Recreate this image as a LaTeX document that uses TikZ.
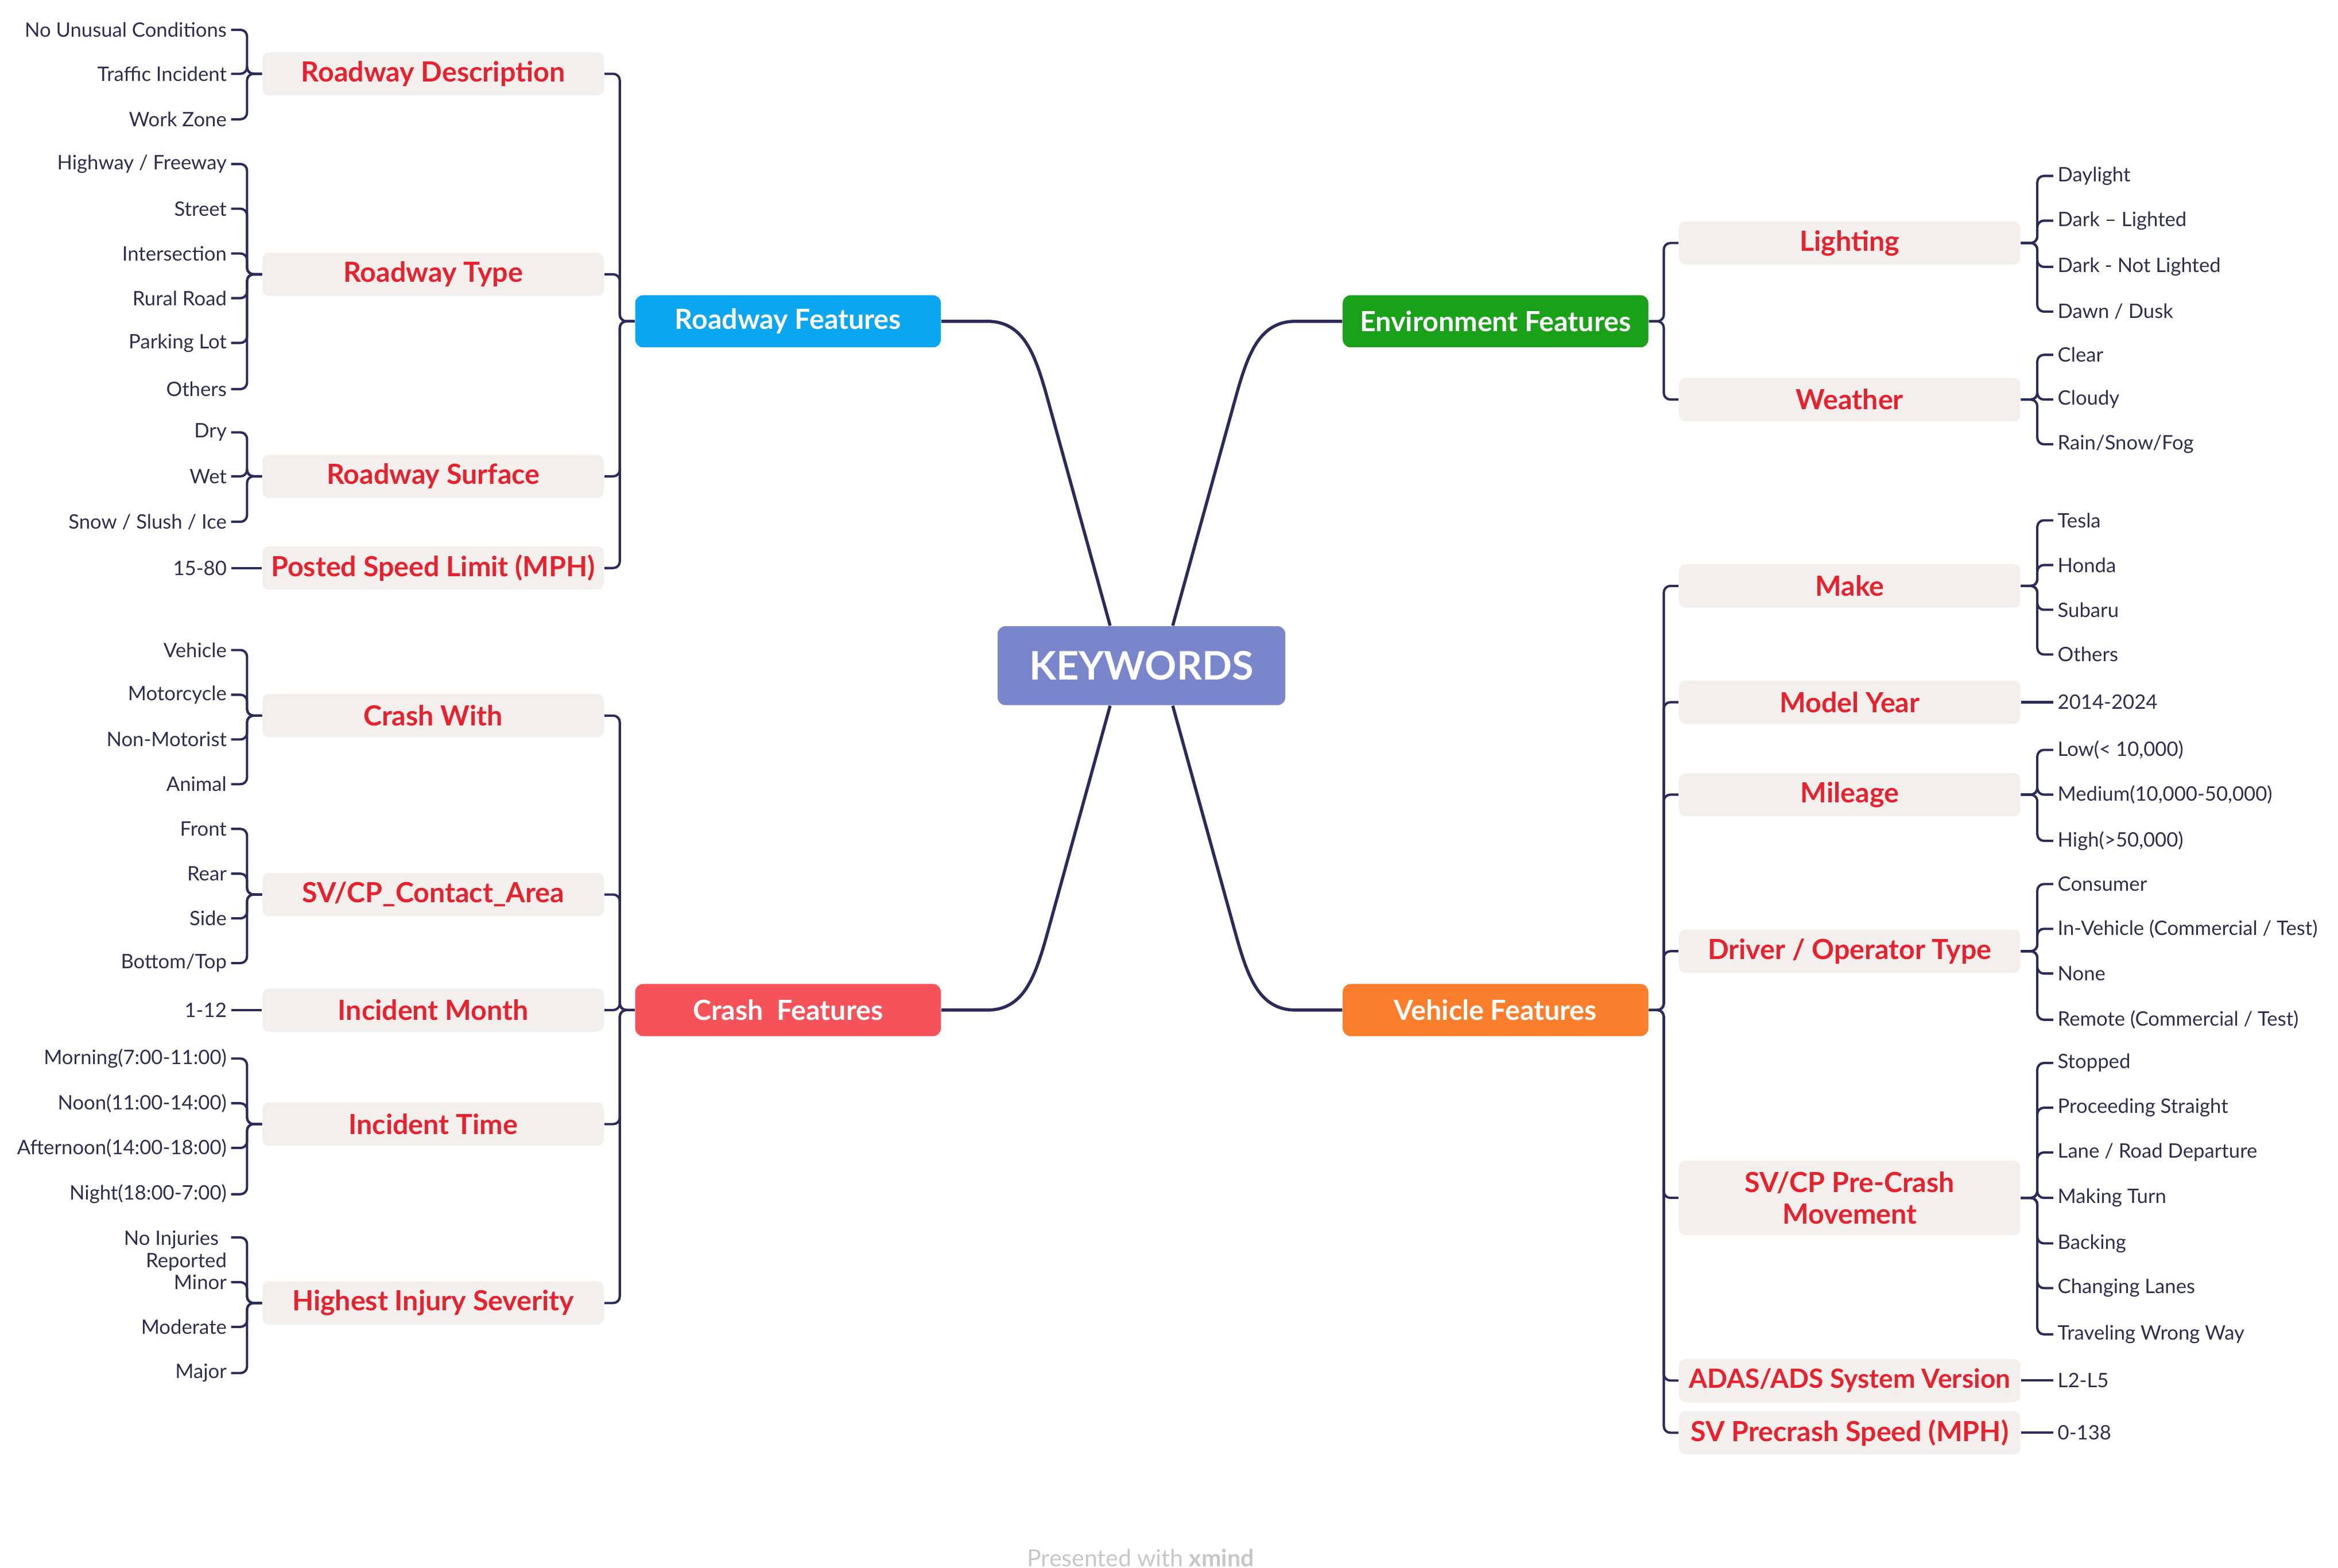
\documentclass[tikz,border=0pt]{standalone}
\usepackage{fontspec}
\setmainfont{Lato}
\usetikzlibrary{calc}
\definecolor{linec}{HTML}{2A2B5A}
\definecolor{leafc}{HTML}{2C2E50}
\definecolor{catred}{HTML}{E5222D}
\definecolor{catfill}{HTML}{F3EFEC}
\definecolor{kwc}{HTML}{7986CB}
\definecolor{rfc}{HTML}{0AA6F0}
\definecolor{efc}{HTML}{1AA11A}
\definecolor{cfc}{HTML}{F5525A}
\definecolor{vfc}{HTML}{FB7E2C}
\tikzset{
 conn/.style={draw=linec, line width=0.9pt, rounded corners=2.5pt},
 cconn/.style={draw=linec, line width=1.2pt},
 cat/.style={fill=catfill, rounded corners=2.5pt, minimum width=4.58cm, minimum height=0.58cm, font=\bfseries\fontsize{10.6}{12}\selectfont, text=catred, inner sep=0pt, align=center},
 mainbox/.style={rounded corners=3pt, minimum width=4.1cm, minimum height=0.7cm, font=\bfseries\fontsize{10.6}{12}\selectfont, text=white, inner sep=0pt},
 leafL/.style={anchor=east, inner sep=1.5pt, font=\fontsize{7.6}{8.5}\selectfont, text=leafc, align=right},
 leafR/.style={anchor=west, inner sep=1.5pt, font=\fontsize{7.6}{8.5}\selectfont, text=leafc},
}
\newcommand\lfL[4]{\node[leafL] (#1) at (155,#2) {#3}; \draw[conn] (#4.west) -- ++(-10,0) |- (#1.east);}
\newcommand\lfR[4]{\node[leafR] (#1) at (1377,#2) {#3}; \draw[conn] (#4.east) -- ++(11,0) |- (#1.west);}
\begin{document}
\begin{tikzpicture}[x=0.02cm, y=-0.02cm]
\useasboundingbox (0,0) rectangle (1568,1051.4);
% center
\node[fill=kwc, rounded corners=3pt, minimum width=3.86cm, minimum height=1.06cm, text=white, font=\bfseries\fontsize{15}{18}\selectfont, inner sep=0pt] (kw) at (765.5,446.5) {KEYWORDS};
\node[mainbox, fill=rfc] (rf) at (528.5,215.5) {Roadway Features};
\node[mainbox, fill=efc] (ef) at (1003,215.5) {Environment Features};
\node[mainbox, fill=cfc] (cf) at (528.5,677.5) {Crash\ \ Features};
\node[mainbox, fill=vfc] (vf) at (1003,677.5) {Vehicle Features};
\draw[cconn] (rf.east) -- (662,215.5) .. controls (690,215.5) and (696,244) .. (706,280) -- ($(kw.north)+(-21,0)$);
\draw[cconn] (ef.west) -- (869,215.5) .. controls (841,215.5) and (835,244) .. (825,280) -- ($(kw.north)+(21,0)$);
\draw[cconn] (cf.east) -- (662,677.5) .. controls (690,677.5) and (696,649) .. (706,613) -- ($(kw.south)+(-21,0)$);
\draw[cconn] (vf.west) -- (869,677.5) .. controls (841,677.5) and (835,649) .. (825,613) -- ($(kw.south)+(21,0)$);
% Roadway features
\node[cat] (rd) at (290.5,49.5) {Roadway Description};
\node[cat] (rt) at (290.5,184) {Roadway Type};
\node[cat] (rs) at (290.5,319.5) {Roadway Surface};
\node[cat] (ps) at (290.5,381) {Posted Speed Limit (MPH)};
\foreach \c in {rd,rt,rs,ps} {\draw[conn] (rf.west) -- ++(-10,0) |- (\c.east);}
\lfL{rd1}{20}{No Unusual Conditions}{rd}
\lfL{rd2}{49.5}{Traffic Incident}{rd}
\lfL{rd3}{80}{Work Zone}{rd}
\lfL{rt1}{110}{Highway / Freeway}{rt}
\lfL{rt2}{140}{Street}{rt}
\lfL{rt3}{170}{Intersection}{rt}
\lfL{rt4}{200}{Rural Road}{rt}
\lfL{rt5}{230}{Parking Lot}{rt}
\lfL{rt6}{261}{Others}{rt}
\lfL{rs1}{290}{Dry}{rs}
\lfL{rs2}{319.5}{Wet}{rs}
\lfL{rs3}{350}{Snow / Slush / Ice}{rs}
\node[leafL] (ps1) at (155,381) {15-80};
\draw[conn] (ps.west) -- (ps1.east);
% Crash features
\node[cat] (cw) at (290.5,480) {Crash With};
\node[cat] (ca) at (290.5,600) {SV/CP\_Contact\_Area};
\node[cat] (im) at (290.5,677.5) {Incident Month};
\node[cat] (it) at (290.5,754) {Incident Time};
\node[cat] (hi) at (290.5,874) {Highest Injury Severity};
\foreach \c in {cw,ca,im,it,hi} {\draw[conn] (cf.west) -- ++(-10,0) |- (\c.east);}
\lfL{cw1}{436}{Vehicle}{cw}
\lfL{cw2}{466}{Motorcycle}{cw}
\lfL{cw3}{496}{Non-Motorist}{cw}
\lfL{cw4}{526}{Animal}{cw}
\lfL{ca1}{556}{Front}{ca}
\lfL{ca2}{586}{Rear}{ca}
\lfL{ca3}{616}{Side}{ca}
\lfL{ca4}{646}{Bottom/Top}{ca}
\node[leafL] (im1) at (155,677.5) {1-12};
\draw[conn] (im.west) -- (im1.east);
\lfL{it1}{710}{Morning(7:00-11:00)}{it}
\lfL{it2}{740}{Noon(11:00-14:00)}{it}
\lfL{it3}{770}{Afternoon(14:00-18:00)}{it}
\lfL{it4}{801}{Night(18:00-7:00)}{it}
\node[leafL, anchor=north east] (hi1) at (155,822.5) {No Injuries\hspace*{3pt}\\Reported};
\coordinate (hi1c) at (155,830);
\draw[conn] (hi.west) -- ++(-10,0) |- (hi1c);
\lfL{hi2}{860}{Minor}{hi}
\lfL{hi3}{890}{Moderate}{hi}
\lfL{hi4}{921}{Major}{hi}
% Environment features
\node[cat] (li) at (1240.5,163) {Lighting};
\node[cat] (we) at (1240.5,268) {Weather};
\foreach \c in {li,we} {\draw[conn] (ef.east) -- ++(10,0) |- (\c.west);}
\lfR{li1}{118}{Daylight}{li}
\lfR{li2}{148}{Dark – Lighted}{li}
\lfR{li3}{179}{Dark - Not Lighted}{li}
\lfR{li4}{209}{Dawn / Dusk}{li}
\lfR{we1}{238}{Clear}{we}
\lfR{we2}{268}{Cloudy}{we}
\lfR{we3}{298}{Rain/Snow/Fog}{we}
% Vehicle features
\node[cat] (mk) at (1240.5,393) {Make};
\node[cat] (my) at (1240.5,471) {Model Year};
\node[cat] (mi) at (1240.5,533) {Mileage};
\node[cat] (dr) at (1240.5,638) {Driver / Operator Type};
\node[cat, minimum height=1.0cm] (pc) at (1240.5,803.5) {SV/CP Pre-Crash\\Movement};
\node[cat, font=\bfseries\fontsize{10.1}{12}\selectfont] (ad) at (1240.5,926) {ADAS/ADS System Version};
\node[cat] (sp) at (1240.5,961) {SV Precrash Speed (MPH)};
\foreach \c in {mk,my,mi,dr,pc,ad,sp} {\draw[conn] (vf.east) -- ++(10,0) |- (\c.west);}
\lfR{mk1}{349}{Tesla}{mk}
\lfR{mk2}{379}{Honda}{mk}
\lfR{mk3}{409}{Subaru}{mk}
\lfR{mk4}{439}{Others}{mk}
\node[leafR] (my1) at (1377,471) {2014-2024};
\draw[conn] (my.east) -- (my1.west);
\lfR{mi1}{503}{Low(< 10,000)}{mi}
\lfR{mi2}{533}{Medium(10,000-50,000)}{mi}
\lfR{mi3}{564}{High(>50,000)}{mi}
\lfR{dr1}{593}{Consumer}{dr}
\lfR{dr2}{623}{In-Vehicle (Commercial / Test)}{dr}
\lfR{dr3}{653}{None}{dr}
\lfR{dr4}{684}{Remote (Commercial / Test)}{dr}
\lfR{pc1}{713}{Stopped}{pc}
\lfR{pc2}{743}{Proceeding Straight}{pc}
\lfR{pc3}{773}{Lane / Road Departure}{pc}
\lfR{pc4}{803.5}{Making Turn}{pc}
\lfR{pc5}{834}{Backing}{pc}
\lfR{pc6}{864}{Changing Lanes}{pc}
\lfR{pc7}{895}{Traveling Wrong Way}{pc}
\node[leafR] (ad1) at (1377,926) {L2-L5};
\draw[conn] (ad.east) -- (ad1.west);
\node[leafR] (sp1) at (1377,961) {0-138};
\draw[conn] (sp.east) -- (sp1.west);
% watermark
\node[text=black!22, font=\fontsize{9}{10}\selectfont] (wm) at (765,1045) {Presented with \textbf{xmind}};
\end{tikzpicture}
\end{document}
